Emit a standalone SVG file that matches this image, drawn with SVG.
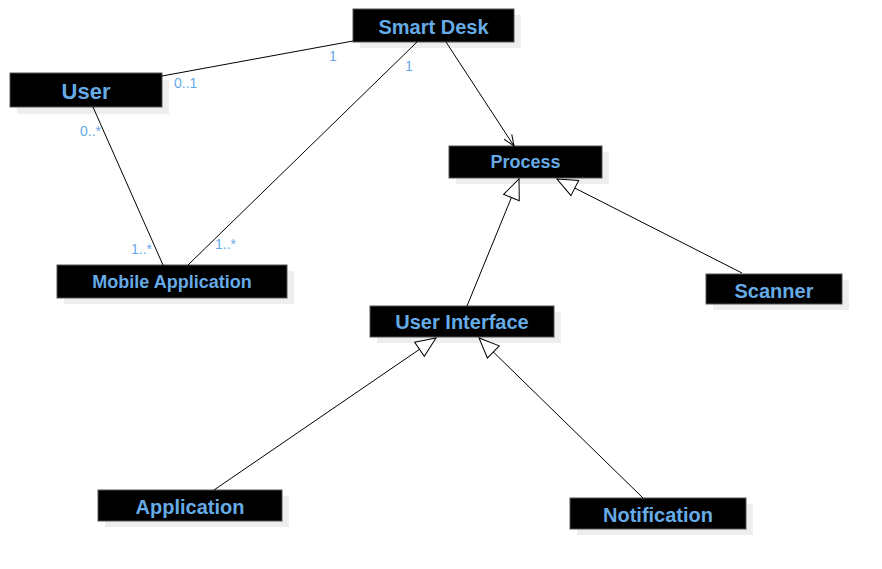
<svg xmlns="http://www.w3.org/2000/svg" width="882" height="569" viewBox="0 0 882 569">
<style>
.shadow{fill:#EEEEEE;}
.box{fill:#000000;stroke:#555555;stroke-width:1;}
.t{font-family:"Liberation Sans",Arial,sans-serif;font-weight:bold;fill:#66AAE6;text-anchor:middle;}
.m{font-family:"Liberation Sans",Arial,sans-serif;font-size:14px;fill:#66AAE6;}
.c{stroke:#000;stroke-width:1;fill:none;}
</style>
<defs>
<marker id="gen" markerUnits="userSpaceOnUse" markerWidth="24" markerHeight="24" viewBox="-2 -12 24 24" refX="20" refY="0" orient="auto" overflow="visible">
<path d="M0,-8.5 L20,0 L0,8.5 Z" fill="#fff" stroke="#000" stroke-width="1"/>
</marker>
<marker id="open" markerUnits="userSpaceOnUse" markerWidth="14" markerHeight="14" viewBox="-2 -7 14 14" refX="11" refY="0" orient="auto" overflow="visible">
<path d="M0,-4.5 L11,0 L0,4.5" fill="none" stroke="#000" stroke-width="1"/>
</marker>
</defs>
<rect width="882" height="569" fill="#fff"/>
<g id="user">
<rect class="shadow" x="17" y="80" width="152" height="34"/>
<rect class="box" x="10" y="73" width="152" height="34"/>
<text class="t" x="86" y="99" font-size="22">User</text>
</g>
<g id="smart-desk">
<rect class="shadow" x="360" y="15" width="161" height="33"/>
<rect class="box" x="353" y="9" width="161" height="33"/>
<text class="t" x="433.5" y="34" font-size="20">Smart Desk</text>
</g>
<g id="process">
<rect class="shadow" x="456" y="152" width="153" height="32"/>
<rect class="box" x="449" y="146" width="153" height="32"/>
<text class="t" x="525.5" y="168" font-size="18">Process</text>
</g>
<g id="mobile-application">
<rect class="shadow" x="64" y="271" width="230" height="33"/>
<rect class="box" x="57" y="265" width="230" height="33"/>
<text class="t" x="172" y="288" font-size="18">Mobile Application</text>
</g>
<g id="user-interface">
<rect class="shadow" x="377" y="312" width="184" height="31"/>
<rect class="box" x="370" y="306" width="184" height="31"/>
<text class="t" x="462" y="329" font-size="20">User Interface</text>
</g>
<g id="scanner">
<rect class="shadow" x="713" y="280" width="136" height="30"/>
<rect class="box" x="706" y="274" width="136" height="30"/>
<text class="t" x="774" y="298" font-size="20">Scanner</text>
</g>
<g id="application">
<rect class="shadow" x="105" y="496" width="184" height="31"/>
<rect class="box" x="98" y="490" width="184" height="31"/>
<text class="t" x="190" y="514" font-size="20">Application</text>
</g>
<g id="notification">
<rect class="shadow" x="577" y="504" width="176" height="31"/>
<rect class="box" x="570" y="498" width="176" height="31"/>
<text class="t" x="658" y="522" font-size="20">Notification</text>
</g>
<g id="connectors">
<line class="c" x1="162" y1="76" x2="353" y2="41"/>
<line class="c" x1="93" y1="107" x2="163" y2="265"/>
<line class="c" x1="417" y1="42" x2="188" y2="265"/>
<line class="c" x1="446" y1="42" x2="514" y2="146" marker-end="url(#open)"/>
<line class="c" x1="467" y1="306" x2="519" y2="179" marker-end="url(#gen)"/>
<line class="c" x1="742" y1="273" x2="557" y2="179" marker-end="url(#gen)"/>
<line class="c" x1="214" y1="490" x2="436" y2="338" marker-end="url(#gen)"/>
<line class="c" x1="643" y1="498" x2="479" y2="338" marker-end="url(#gen)"/>
<text class="m" x="174" y="88">0..1</text>
<text class="m" x="329" y="61">1</text>
<text class="m" x="405" y="71">1</text>
<text class="m" x="80" y="136">0..*</text>
<text class="m" x="131" y="254">1..*</text>
<text class="m" x="215" y="249">1..*</text>
</g>
</svg>
